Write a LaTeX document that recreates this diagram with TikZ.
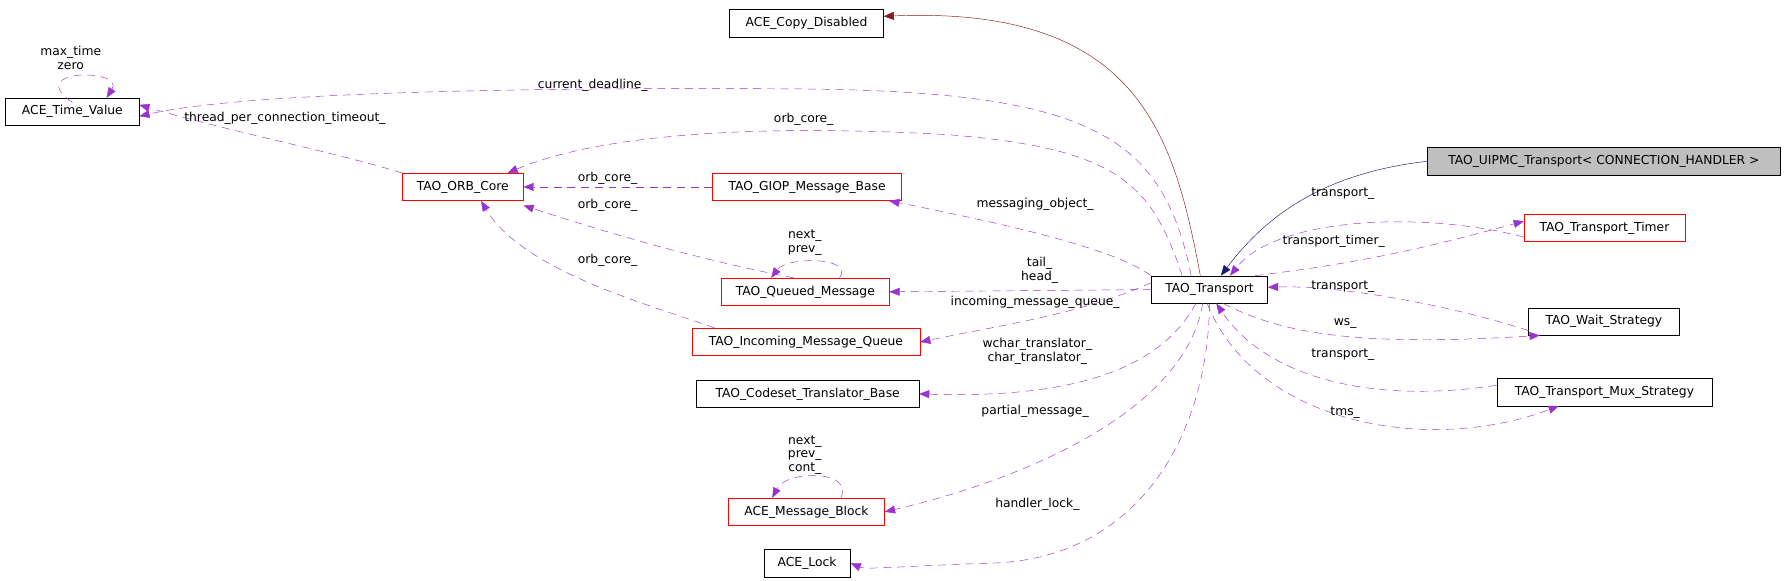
\documentclass[tikz,border=0pt]{standalone}
\usepackage{fontspec}
\setmainfont{DejaVu Sans}
\usetikzlibrary{arrows.meta}
\definecolor{usecol}{HTML}{9A32CD}
\definecolor{inhcol}{HTML}{8B1A1A}
\definecolor{tplcol}{HTML}{191970}
\tikzset{
  cls/.style={rectangle,draw=black,minimum height=24pt,inner sep=0pt,font=\fontsize{10.8}{12}\selectfont},
  redcls/.style={cls,draw=red},
  use/.style={draw=usecol,dash pattern=on 7pt off 5pt,-{Triangle[length=9pt,width=7pt]},usecol!100},
  inh/.style={draw=inhcol,-{Triangle[length=9pt,width=7pt]},inhcol},
  tpl/.style={draw=tplcol,-{Triangle[length=9pt,width=7pt]},tplcol},
  lbl/.style={font=\fontsize{10.8}{12}\selectfont,align=center,inner sep=0pt}
}
\begin{document}
\begin{tikzpicture}[x=1pt,y=-1pt]
\useasboundingbox (0,0) rectangle (1565,509);
% classes
\node[cls,minimum width=135pt] (cd) at (707.5,20.5) {ACE\_Copy\_Disabled};
\node[cls,minimum width=117pt] (tv) at (63.5,98) {ACE\_Time\_Value};
\node[redcls,minimum width=106pt] (orb) at (406,164) {TAO\_ORB\_Core};
\node[redcls,minimum width=166pt] (giop) at (708,164) {TAO\_GIOP\_Message\_Base};
\node[cls,minimum width=310pt,fill=black!25] (uipmc) at (1407,141.5) {TAO\_UIPMC\_Transport< CONNECTION\_HANDLER >};
\node[redcls,minimum width=141pt] (timer) at (1407.5,200) {TAO\_Transport\_Timer};
\node[cls,minimum width=102pt] (tr) at (1061,254) {TAO\_Transport};
\node[redcls,minimum width=147pt] (qm) at (706.5,256) {TAO\_Queued\_Message};
\node[cls,minimum width=132pt] (ws) at (1407,282) {TAO\_Wait\_Strategy};
\node[redcls,minimum width=200pt] (imq) at (707,300) {TAO\_Incoming\_Message\_Queue};
\node[cls,minimum width=195pt] (cts) at (708.5,345.5) {TAO\_Codeset\_Translator\_Base};
\node[cls,minimum width=189pt] (mux) at (1407.5,344) {TAO\_Transport\_Mux\_Strategy};
\node[redcls,minimum width=137pt] (mb) at (707.5,449) {ACE\_Message\_Block};
\node[cls,minimum width=76pt] (lock) at (708,494) {ACE\_Lock};

% inheritance
\draw[inh] ([xshift=-8pt]tr.north) .. controls (1030,120) and (1000,5) .. ([yshift=-6pt]cd.north east);
\draw[tpl] (uipmc.west) .. controls (1160,152) and (1110,190) .. ([xshift=10pt]tr.north);

% usage
\draw[use] ([xshift=-16pt]tr.north) .. controls (1020,120) and (960,80) .. (700,78) .. controls (400,76) and (200,84) .. ([yshift=-4pt]tv.east);
\draw[use] (orb.north west) .. controls (300,135) and (200,115) .. ([yshift=6pt]tv.east);
\draw[use] ([yshift=-4pt]tv.north) .. controls (20,60) and (110,60) .. ([xshift=30pt]tv.north) ;
\draw[use] ([xshift=-24pt]tr.north) .. controls (1010,160) and (980,130) .. (830,118) .. controls (650,108) and (520,120) .. ([xshift=-14pt]orb.north east);
\draw[use] (giop.west) -- (orb.east);
\draw[use] ([xshift=-10pt]qm.north) .. controls (600,225) and (520,200) .. ([yshift=-4pt]orb.south east);
\draw[use] ([xshift=-80pt]imq.north) .. controls (580,270) and (460,240) .. ([xshift=16pt]orb.south);
\draw[use] (tr.north west) .. controls (980,220) and (900,200) .. ([xshift=72pt]giop.south);
\draw[use] ([xshift=30pt]qm.north) .. controls (750,225) and (690,225) .. ([xshift=-30pt]qm.north);
\draw[use] (tr.west) -- (qm.east);
\draw[use] ([yshift=6pt]tr.west) .. controls (950,275) and (880,285) .. (imq.east);
\draw[use] ([xshift=-12pt]tr.south) .. controls (1020,320) and (950,350) .. (cts.east);
\draw[use] ([xshift=-6pt]tr.south) .. controls (1040,360) and (900,420) .. (mb.east);
\draw[use] ([xshift=30pt]mb.north) .. controls (750,412) and (690,412) .. ([xshift=-30pt]mb.north);
\draw[use] ([xshift=0pt]tr.south) .. controls (1060,380) and (1000,490) .. (870,494) .. controls (800,496) and (760,500) .. (lock.east);
\draw[use] ([yshift=-8pt]timer.west) .. controls (1250,185) and (1120,190) .. ([xshift=18pt]tr.north);
\draw[use] ([xshift=40pt]tr.north) .. controls (1200,230) and (1260,215) .. ([yshift=6pt]timer.west);
\draw[use] ([yshift=-8pt]ws.west) .. controls (1280,270) and (1180,250) .. ([yshift=2pt]tr.east);
\draw[use] ([xshift=12pt]tr.south) .. controls (1120,290) and (1180,305) .. ([xshift=10pt,yshift=0pt]ws.south west);
\draw[use] ([yshift=6pt]mux.west) .. controls (1200,355) and (1110,330) .. ([xshift=6pt]tr.south);
\draw[use] ([xshift=-2pt]tr.south) .. controls (1100,370) and (1250,400) .. ([xshift=-40pt]mux.south);

% labels
\node[lbl] (lcd) at (520,75) {current\_deadline\_};
\node[lbl] (ltpc) at (250,104) {thread\_per\_connection\_timeout\_};
\node[lbl] (ltv) at (62,51) {max\_time\\zero};
\node[lbl] (lorb1) at (705,105) {orb\_core\_};
\node[lbl] (lorb2) at (533,156) {orb\_core\_};
\node[lbl] (lorb3) at (533,180) {orb\_core\_};
\node[lbl] (lorb4) at (533,228) {orb\_core\_};
\node[lbl] (lmo) at (908,179) {messaging\_object\_};
\node[lbl] (lqm) at (706,213) {next\_\\prev\_};
\node[lbl] (lth) at (912,237) {tail\_\\head\_};
\node[lbl] (limq) at (908,265) {incoming\_message\_queue\_};
\node[lbl] (lct) at (910,308) {wchar\_translator\_\\char\_translator\_};
\node[lbl] (lpm) at (908,361) {partial\_message\_};
\node[lbl] (lmb) at (706,399) {next\_\\prev\_\\cont\_};
\node[lbl] (lhl) at (910,442) {handler\_lock\_};
\node[lbl] (ltr1) at (1178,170) {transport\_};
\node[lbl] (ltt) at (1170,212) {transport\_timer\_};
\node[lbl] (ltr2) at (1178,251) {transport\_};
\node[lbl] (lws) at (1180,284) {ws\_};
\node[lbl] (ltr3) at (1178,311) {transport\_};
\node[lbl] (ltms) at (1180,362) {tms\_};
\end{tikzpicture}
\end{document}
